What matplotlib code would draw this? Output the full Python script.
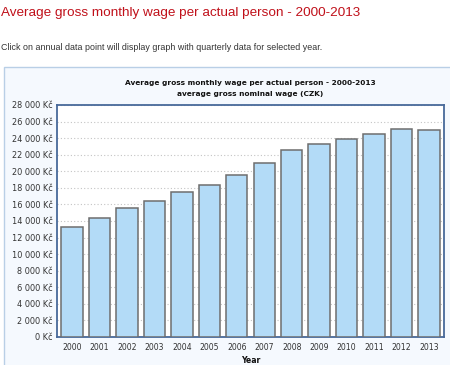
import matplotlib
matplotlib.use("Agg")
import matplotlib.pyplot as plt
from matplotlib.patches import Rectangle
from matplotlib.ticker import FuncFormatter, MultipleLocator

years = ["2000", "2001", "2002", "2003", "2004", "2005", "2006",
         "2007", "2008", "2009", "2010", "2011", "2012", "2013"]
wages = [13219, 14378, 15524, 16430, 17466, 18344, 19546,
         20957, 22592, 23344, 23864, 24455, 25067, 25035]

page_title = "Average gross monthly wage per actual person - 2000-2013"
page_note = "Click on annual data point will display graph with quarterly data for selected year."
chart_title = "Average gross monthly wage per actual person - 2000-2013"
chart_subtitle = "average gross nominal wage (CZK)"

W, H = 450, 365
fig = plt.figure(figsize=(W / 100, H / 100), dpi=100)
fig.patch.set_facecolor("white")

def fx(px):
    return px / W

def fy(py):
    return 1 - py / H

# header texts
fig.text(fx(1), fy(13), page_title, color="#c0101a", fontsize=9.7,
         family="Liberation Sans", va="center", ha="left")
fig.text(fx(1), fy(48), page_note, color="#333333", fontsize=6.4,
         family="Liberation Sans", va="center", ha="left")

# panel background
panel = Rectangle((fx(3.5), fy(380)), fx(460), fy(66.5) - fy(380),
                  transform=fig.transFigure, facecolor="#f5f9fe",
                  edgecolor="#b9cfe6", linewidth=1.0, zorder=-5)
fig.patches.append(panel)

# chart titles
fig.text(fx(250), fy(83), chart_title, fontsize=5.3, fontweight="bold",
         color="#111111", ha="center", va="center")
fig.text(fx(250), fy(94), chart_subtitle, fontsize=5.3, fontweight="bold",
         color="#111111", ha="center", va="center")

left, right, top, bottom = 57, 444, 105, 337
ax = fig.add_axes([fx(left), fy(bottom), fx(right - left), fy(top) - fy(bottom)])
ax.set_zorder(2)
ax.set_facecolor("white")

x = range(len(years))
ax.bar(x, wages, width=0.78, color="#b3dbf7", edgecolor="#6e6e6e",
       linewidth=1.1, zorder=3)

ax.set_xlim(-0.55, len(years) - 0.45)
ax.set_ylim(0, 28000)
ax.yaxis.set_major_locator(MultipleLocator(2000))
ax.yaxis.set_major_formatter(FuncFormatter(
    lambda v, p: f"{int(v):,}".replace(",", " ") + " Kč"))
ax.set_xticks(list(x))
ax.set_xticklabels(years)
ax.tick_params(axis="y", length=0, pad=3, labelsize=5.9, labelcolor="#333333")
ax.tick_params(axis="x", length=0, pad=4, labelsize=5.6, labelcolor="#333333")
ax.grid(axis="y", linestyle=(0, (1, 2)), color="#c4c4c4", linewidth=0.8, zorder=1)
for s in ax.spines.values():
    s.set_color("#48699a")
    s.set_linewidth(1.3)

ax.set_xlabel("Year", fontsize=5.6, fontweight="bold", color="#111111", labelpad=3)

fig.savefig("out.png", dpi=100)
